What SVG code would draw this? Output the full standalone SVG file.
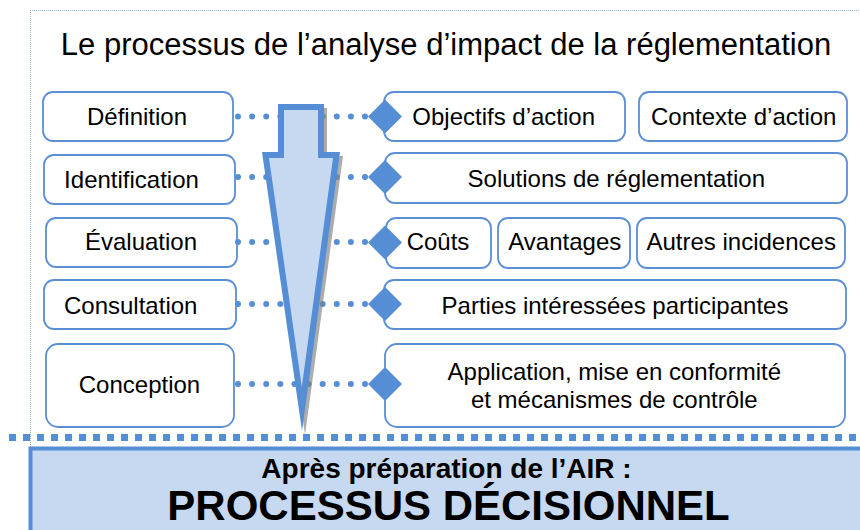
<svg xmlns="http://www.w3.org/2000/svg" width="860" height="530" viewBox="0 0 860 530">
  <style>
    .box { fill: #ffffff; stroke: #5B8FD5; stroke-width: 1.8; }
    .lbl { font-family: "Liberation Sans", Arial, sans-serif; font-size: 24px; fill: #000000; text-anchor: middle; }
    .dots { fill: none; stroke: #558ED5; stroke-width: 6; stroke-linecap: round; stroke-dasharray: 0 14.11; }
    .title { font-family: "Liberation Sans", Arial, sans-serif; font-size: 31px; fill: #000000; text-anchor: middle; }
    .bold { font-family: "Liberation Sans", Arial, sans-serif; font-weight: bold; fill: #000000; text-anchor: middle; }
  </style>
  <defs>
    <polygon id="diamond" points="0,-17 17,0 0,17 -17,0" fill="#558ED5"/>
  </defs>

  <rect width="860" height="530" fill="#ffffff"/>

  <!-- thin dotted frame -->
  <path d="M30.5,447 V10.5 H870" fill="none" stroke="#8DB3E2" stroke-width="1" stroke-dasharray="1 1"/>

  <text class="title" x="446" y="55">Le processus de l’analyse d’impact de la réglementation</text>

  <!-- stage boxes (left) -->
  <g id="definition"><rect class="box" x="43" y="92" width="190" height="49" rx="10"/><text class="lbl" x="137" y="125">Définition</text></g>
  <g id="identification"><rect class="box" x="44" y="155" width="191" height="49" rx="10"/><text class="lbl" x="131.5" y="188">Identification</text></g>
  <g id="evaluation"><rect class="box" x="46" y="218" width="191" height="49" rx="10"/><text class="lbl" x="141" y="250">Évaluation</text></g>
  <g id="consultation"><rect class="box" x="44" y="280" width="192" height="49" rx="10"/><text class="lbl" x="130.7" y="313.5">Consultation</text></g>
  <g id="conception"><rect class="box" x="46" y="344" width="188" height="83" rx="12"/><text class="lbl" x="139.5" y="392.5">Conception</text></g>

  <!-- content boxes (right) -->
  <g id="objectifs"><rect class="box" x="384" y="92" width="241" height="49" rx="10"/><text class="lbl" x="503.7" y="125">Objectifs d’action</text></g>
  <g id="contexte"><rect class="box" x="639" y="92" width="208" height="49" rx="10"/><text class="lbl" x="743.7" y="125">Contexte d’action</text></g>
  <g id="solutions"><rect class="box" x="385" y="153" width="462" height="50" rx="10"/><text class="lbl" x="616.3" y="187">Solutions de réglementation</text></g>
  <g id="couts"><rect class="box" x="386" y="218" width="105" height="50" rx="10"/><text class="lbl" x="438" y="250">Coûts</text></g>
  <g id="avantages"><rect class="box" x="498" y="218" width="132" height="50" rx="10"/><text class="lbl" x="564.8" y="250">Avantages</text></g>
  <g id="autres"><rect class="box" x="637" y="218" width="208" height="50" rx="10"/><text class="lbl" x="741.2" y="250">Autres incidences</text></g>
  <g id="parties"><rect class="box" x="384" y="280" width="462" height="49" rx="10"/><text class="lbl" x="615" y="314">Parties intéressées participantes</text></g>
  <g id="application"><rect class="box" x="385" y="344" width="460" height="83" rx="12"/><text class="lbl" x="614.3" y="380">Application, mise en conformité</text><text class="lbl" x="614.3" y="407.5">et mécanismes de contrôle</text></g>

  <!-- dotted links between stages and contents -->
  <g id="connectors">
    <line class="dots" x1="238" y1="116.5" x2="365" y2="116.5"/>
    <line class="dots" x1="238" y1="177" x2="365" y2="177"/>
    <line class="dots" x1="238" y1="242" x2="365" y2="242"/>
    <line class="dots" x1="238" y1="304" x2="365" y2="304"/>
    <line class="dots" x1="238" y1="384" x2="365" y2="384"/>
  </g>

  <!-- downward process arrow -->
  <g id="arrow">
    <polygon points="278,104 324,104 324,152 340,152 302,431 262,152 278,152" fill="#7F7F7F" opacity="0.65" transform="translate(3,4)"/>
    <polygon points="278,104 324,104 324,152 340,152 302,431 262,152 278,152" fill="#558ED5"/>
    <polygon points="284,110 318,110 318,158 333,158 301.8,387 269,158 284,158" fill="#C6D9F1"/>
  </g>

  <!-- connector end diamonds -->
  <g id="diamonds">
    <use href="#diamond" x="385" y="116.5"/>
    <use href="#diamond" x="385" y="177"/>
    <use href="#diamond" x="385" y="242.5"/>
    <use href="#diamond" x="385" y="304"/>
    <use href="#diamond" x="385" y="384"/>
  </g>

  <!-- separator -->
  <line x1="9" y1="437.5" x2="870" y2="437.5" stroke="#558ED5" stroke-width="7" stroke-dasharray="7 7"/>

  <!-- decision process band -->
  <g id="decision">
    <rect x="30.5" y="448.5" width="850" height="100" fill="#C6D9F1" stroke="#558ED5" stroke-width="4"/>
    <text class="bold" x="446.5" y="478" font-size="28">Après préparation de l’AIR :</text>
    <text class="bold" x="448.5" y="520" font-size="42">PROCESSUS DÉCISIONNEL</text>
  </g>
</svg>
